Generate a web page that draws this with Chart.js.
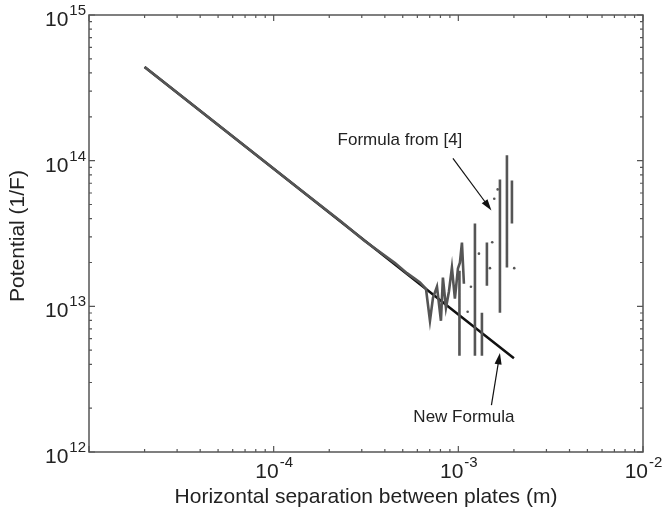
<!DOCTYPE html>
<html lang="en">
<head>
    <meta charset="UTF-8">
    <title>Potential vs plate separation</title>
    <script src="https://cdn.jsdelivr.net/npm/chart.js@4/dist/chart.umd.min.js"></script>
    <style>
        body { margin: 0; background: #fff; }
        #wrap { width: 663px; height: 514px; position: relative; }
    </style>
</head>
<body>
<div id="wrap"><canvas id="chart"></canvas></div>
<script>
// New Formula (straight line on log-log)
const newX = [2.0e-5, 1.0e-4, 1.0e-3, 2.0e-3];
const newY = [4.4e14, 8.8e13, 8.8e12, 4.4e12];

// Formula from [4] - null y breaks the line into pieces
const oldX = [2.0e-5, 1.39e-4, 2.29e-4, 3.1e-4, 3.76e-4, 4.54e-4, 5.27e-4, 5.8e-4, 6.20e-4, 6.68e-4, 7.02e-4, 7.29e-4,
              7.66e-4, 8.05e-4, 8.25e-4, 8.57e-4, 8.89e-4, 9.23e-4, 9.58e-4, 9.95e-4, 1.02e-3, 1.046e-3,
              1.072e-3, 1.072e-3,
              1.014e-3, 1.014e-3, 1.014e-3,
              1.23e-3, 1.23e-3, 1.23e-3,
              1.342e-3, 1.342e-3, 1.342e-3,
              1.428e-3, 1.428e-3, 1.428e-3,
              1.68e-3, 1.68e-3, 1.68e-3,
              1.833e-3, 1.833e-3, 1.833e-3,
              1.951e-3, 1.951e-3];
const oldY = [4.39e14, 6.33e13, 3.87e13, 2.82e13, 2.36e13, 1.98e13, 1.69e13, 1.55e13, 1.46e13, 1.32e13, 7.96e12, 1.146e13,
              1.364e13, 7.96e12, 1.573e13, 9.78e12, 1.26e13, 1.844e13, 1.128e13, 1.815e13, 1.995e13, 2.74e13,
              1.43e13, null,
              1.758e13, 4.57e12, null,
              3.70e13, 4.57e12, null,
              9.04e12, 4.57e12, null,
              2.74e13, 1.386e13, null,
              7.43e13, 9.04e12, null,
              1.088e14, 1.844e13, null,
              7.32e13, 3.70e13];

// isolated dots of the old formula
const dotX = [1.123e-3, 1.17e-3, 1.293e-3, 1.483e-3, 1.526e-3, 1.565e-3, 1.633e-3, 2.008e-3];
const dotY = [9.18e12, 1.364e13, 2.30e13, 1.829e13, 2.754e13, 5.48e13, 6.35e13, 1.829e13];

const xMajor = [1e-5, 1e-4, 1e-3, 1e-2];
const xLabels = ['', '-4', '-3', '-2'];
const yMajor = [1e12, 1e13, 1e14, 1e15];
const yLabels = ['12', '13', '14', '15'];

const toPts = (xs, ys) => xs.map((x, i) => ({ x: x, y: ys[i] }));

const FONT = '"Liberation Sans", Arial, sans-serif';
const AXIS_COL = '#555';

function minorTicks(major) {
    const out = [];
    for (let i = 0; i < major.length - 1; i++) {
        for (let m = 2; m <= 9; m++) out.push(major[i] * m);
    }
    return out;
}

function drawPow(ctx, exp, x, y, align) {
    ctx.font = '21px ' + FONT;
    const wb = ctx.measureText('10').width;
    ctx.font = '15px ' + FONT;
    const we = ctx.measureText(exp).width;
    let left = x;
    if (align === 'right') left = x - wb - we;
    if (align === 'center') left = x - (wb + we) / 2;
    ctx.textAlign = 'left';
    ctx.textBaseline = 'alphabetic';
    ctx.font = '21px ' + FONT;
    ctx.fillText('10', left, y);
    ctx.font = '15px ' + FONT;
    ctx.fillText(exp, left + wb + 1, y - 11);
}

function arrow(ctx, x1, y1, x2, y2) {
    const a = Math.atan2(y2 - y1, x2 - x1);
    const len = 12, w = 0.3;
    ctx.beginPath();
    ctx.moveTo(x1, y1);
    ctx.lineTo(x2 - Math.cos(a) * len * 0.8, y2 - Math.sin(a) * len * 0.8);
    ctx.stroke();
    ctx.beginPath();
    ctx.moveTo(x2, y2);
    ctx.lineTo(x2 - len * Math.cos(a - w), y2 - len * Math.sin(a - w));
    ctx.lineTo(x2 - len * Math.cos(a + w), y2 - len * Math.sin(a + w));
    ctx.closePath();
    ctx.fill();
}

const framePlugin = {
    id: 'frame',
    afterDraw(chart) {
        const { ctx, chartArea: ca, scales } = chart;
        const xs = scales.x, ys = scales.y;
        ctx.save();
        ctx.strokeStyle = AXIS_COL;
        ctx.lineWidth = 1.5;
        ctx.strokeRect(ca.left, ca.top, ca.right - ca.left, ca.bottom - ca.top);

        // inward ticks on all four sides
        ctx.lineWidth = 1.2;
        const tick = (v, len, isX) => {
            ctx.beginPath();
            if (isX) {
                const p = xs.getPixelForValue(v);
                ctx.moveTo(p, ca.bottom); ctx.lineTo(p, ca.bottom - len);
                ctx.moveTo(p, ca.top); ctx.lineTo(p, ca.top + len);
            } else {
                const p = ys.getPixelForValue(v);
                ctx.moveTo(ca.left, p); ctx.lineTo(ca.left + len, p);
                ctx.moveTo(ca.right, p); ctx.lineTo(ca.right - len, p);
            }
            ctx.stroke();
        };
        xMajor.forEach(v => tick(v, 6, true));
        minorTicks(xMajor).forEach(v => tick(v, 3, true));
        yMajor.forEach(v => tick(v, 6, false));
        minorTicks(yMajor).forEach(v => tick(v, 3, false));

        // tick labels
        ctx.fillStyle = '#222';
        xMajor.forEach((v, i) => {
            if (xLabels[i]) drawPow(ctx, xLabels[i], xs.getPixelForValue(v), ca.bottom + 26, 'center');
        });
        yMajor.forEach((v, i) => {
            drawPow(ctx, yLabels[i], ca.left - 4, ys.getPixelForValue(v) + 11, 'right');
        });

        // axis titles
        ctx.font = '21px ' + FONT;
        ctx.textAlign = 'center';
        ctx.textBaseline = 'middle';
        ctx.fillText('Horizontal separation between plates (m)', (ca.left + ca.right) / 2, ca.bottom + 45);
        ctx.save();
        ctx.translate(18, 236);
        ctx.rotate(-Math.PI / 2);
        ctx.fillText('Potential (1/F)', 0, 0);
        ctx.restore();

        // annotations
        ctx.font = '17px ' + FONT;
        ctx.fillText('Formula from [4]', xs.getPixelForValue(4.83e-4), ys.getPixelForValue(1.38e14));
        ctx.fillText('New Formula', xs.getPixelForValue(1.072e-3), ys.getPixelForValue(1.74e12));
        ctx.strokeStyle = '#111';
        ctx.fillStyle = '#111';
        ctx.lineWidth = 1.2;
        arrow(ctx, xs.getPixelForValue(9.35e-4), ys.getPixelForValue(1.037e14),
                   xs.getPixelForValue(1.511e-3), ys.getPixelForValue(4.55e13));
        arrow(ctx, xs.getPixelForValue(1.511e-3), ys.getPixelForValue(2.10e12),
                   xs.getPixelForValue(1.68e-3), ys.getPixelForValue(4.79e12));
        ctx.restore();
    }
};

new Chart(document.getElementById('chart'), {
    type: 'scatter',
    data: {
        datasets: [
            {
                label: 'Formula from [4]',
                data: toPts(oldX, oldY),
                showLine: true,
                spanGaps: false,
                borderColor: '#555',
                borderWidth: 2.6,
                pointRadius: 0,
                order: 1
            },
            {
                label: 'New Formula',
                data: toPts(newX, newY),
                showLine: true,
                borderColor: '#111',
                borderWidth: 2.5,
                pointRadius: 0,
                order: 2
            },
            {
                label: 'dots',
                data: toPts(dotX, dotY),
                showLine: false,
                pointRadius: 1.3,
                pointBorderWidth: 0,
                pointBackgroundColor: '#555',
                order: 0
            }
        ]
    },
    options: {
        responsive: true,
        maintainAspectRatio: false,
        animation: false,
        layout: { padding: { left: 89, top: 15, right: 20, bottom: 62 } },
        plugins: { legend: { display: false }, tooltip: { enabled: false } },
        scales: {
            x: { type: 'logarithmic', min: 1e-5, max: 1e-2, display: false },
            y: { type: 'logarithmic', min: 1e12, max: 1e15, display: false }
        }
    },
    plugins: [framePlugin]
});
</script>
</body>
</html>
